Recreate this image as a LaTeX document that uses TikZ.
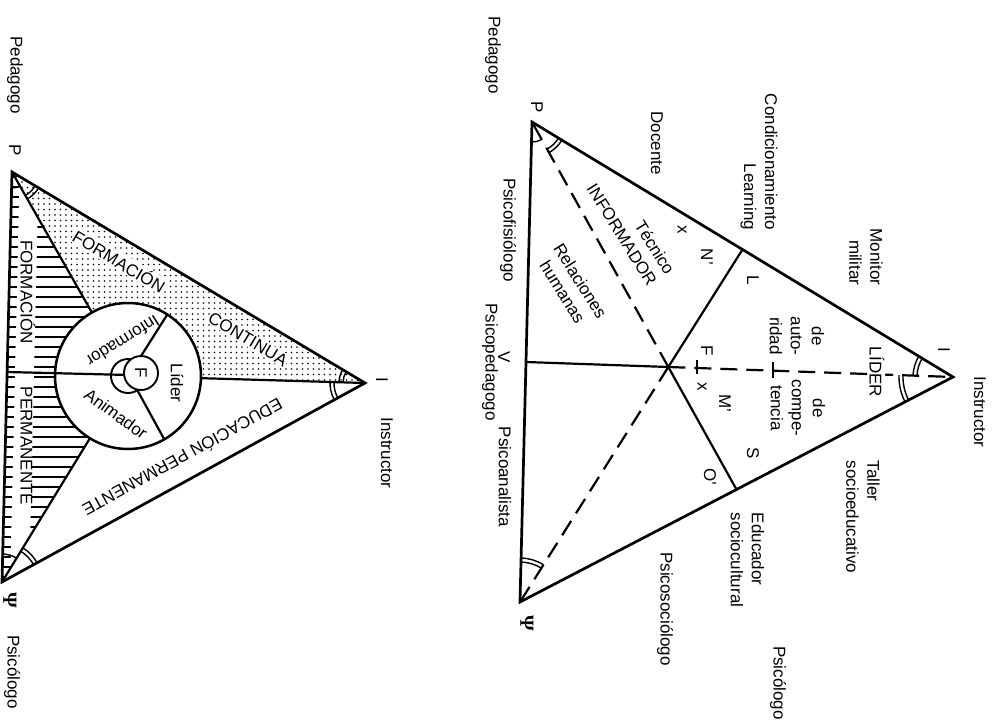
\documentclass[tikz,border=0pt]{standalone}
\usepackage{fontspec}
\setmainfont{Liberation Sans}
\newfontfamily\psifont{Liberation Serif}
\usetikzlibrary{calc,patterns.meta}
\begin{document}
\begin{tikzpicture}[x=1pt,y=1pt,
  lbl/.style={font=\fontsize{17}{21}\selectfont, inner sep=0pt},
  vlbl/.style={lbl, rotate=-90},
  psil/.style={font=\psifont\bfseries\fontsize{20}{20}\selectfont, inner sep=0pt, rotate=-90},
  edge/.style={line width=2.7pt, line join=miter},
  innerln/.style={line width=2.2pt},
  dsh/.style={line width=2.2pt, dash pattern=on 17pt off 9pt},
  amark/.style={line width=1.4pt},
  wbg/.style={fill=white, inner sep=1pt}]
\useasboundingbox (0,0) rectangle (997,-721);
% ================= LEFT TRIANGLE =================
\coordinate (P1) at (12,-172);
\coordinate (I1) at (365,-383);
\coordinate (S1) at (2,-582);
\coordinate (C) at (128,-376);
\coordinate (Q) at (129,-375);
\coordinate (CP) at ($(C)!73pt!(P1)$);
\coordinate (CI) at ($(C)!73pt!(I1)$);
\coordinate (CS) at ($(C)!73pt!(S1)$);
\coordinate (E1) at ($(P1)!0.4878!(S1)$);
\coordinate (CU) at ($(C)+(57.4:73)$);
\coordinate (CD) at ($(C)+(-60.2:73)$);
% dotted region
\fill[pattern={Dots[distance=5.5pt,radius=0.95pt]}] (P1) -- (I1) -- (CI) arc[start angle=-1.69, end angle=119.62, radius=73] -- cycle;
% hatched region
\begin{scope}
  \clip (P1) -- (CP) arc[start angle=119.62, end angle=238.55, radius=73] -- (S1) -- cycle;
  \foreach \yy in {177,187,...,577} \draw[line width=2.2pt] (-5,-\yy) -- (200,-\yy);
  \fill[white] (20,-160) -- (39,-160) -- (29,-590) -- (10,-590) -- cycle;
\end{scope}
% lines
\draw[edge] (P1) -- (I1) -- (S1) -- cycle;
\draw[innerln] (P1) -- (CP);
\draw[innerln] (I1) -- (CI);
\draw[innerln] (S1) -- (CS);
\draw[line width=2.5pt] (C) circle[radius=73];
\draw[innerln] (E1) -- (Q);
\draw[innerln] (Q) -- (CU);
\draw[innerln] (Q) -- (CD);
\draw[line width=1.9pt] (C) circle[radius=17];
\draw[line width=1.9pt, fill=white] (141,-373) circle[radius=17] node (fi) [vlbl] {F};
% angle marks left
\draw[amark] ($(P1)+(268.6:16)$) arc[start angle=268.6, end angle=299.6, radius=16];
\draw[amark] ($(P1)+(299.6:27)$) arc[start angle=299.6, end angle=329.1, radius=27];
\draw[amark] ($(P1)+(299.6:31)$) arc[start angle=299.6, end angle=329.1, radius=31];
\draw[amark] ($(I1)+(149.1:22)$) arc[start angle=149.1, end angle=178.3, radius=22];
\draw[amark] ($(I1)+(149.1:26)$) arc[start angle=149.1, end angle=178.3, radius=26];
\draw[amark] ($(I1)+(178.3:31)$) arc[start angle=178.3, end angle=208.7, radius=31];
\draw[amark] ($(I1)+(178.3:35)$) arc[start angle=178.3, end angle=208.7, radius=35];
\draw[amark] ($(S1)+(58.5:28)$) arc[start angle=58.5, end angle=88.6, radius=28];
\draw[amark] ($(S1)+(28.7:36)$) arc[start angle=28.7, end angle=58.5, radius=36];
\draw[amark] ($(S1)+(28.7:40)$) arc[start angle=28.7, end angle=58.5, radius=40];
% labels left
\node[vlbl] (pedL) at (15,-75) {Pedagogo};
\node[vlbl] (pL) at (15,-150) {P};
\node[vlbl] (iL) at (382,-380) {I};
\node[vlbl] (instL) at (387,-453) {Instructor};
\node[psil] (psiL) at (10,-600) {Ψ};
\node[vlbl] (psicL) at (12,-672) {Psicólogo};
\node[lbl, wbg, rotate=-31] (fc1) at (119.5,-261) {FORMACIÓN};
\node[lbl, wbg, rotate=-31] (fc2) at (248,-339) {CONTINUA};
\node[lbl, rotate=208.7] (ep) at (183,-458) {EDUCACIÓN PERMANENTE};
\node[vlbl] (fp1) at (28,-292) {FORMACIÓN};
\node[vlbl] (fp2) at (26.5,-446) {PERMANENTE};
\node[lbl, rotate=212] (inf) at (123,-341) {Informador};
\node[vlbl] (lid) at (177,-383) {Líder};
\node[lbl, rotate=-36] (ani) at (116,-414) {Animador};
% ================= RIGHT TRIANGLE =================
\coordinate (P2) at (532,-122);
\coordinate (I2) at (953,-377);
\coordinate (S2) at (520,-602);
\coordinate (F2) at ($1/3*(P2)+1/3*(I2)+1/3*(S2)$);
\coordinate (L2) at ($(P2)!0.5!(I2)$);
\coordinate (O2) at ($(I2)!0.5!(S2)$);
\coordinate (V2) at ($(P2)!0.5!(S2)$);
\draw[edge] (P2) -- (I2) -- (S2) -- cycle;
\draw[innerln] (L2) -- (F2) -- (O2);
\draw[innerln] (V2) -- (F2);
\draw[dsh] (F2) -- (P2);
\draw[dsh] (F2) -- (S2);
\draw[dsh] (F2) -- (I2);
\draw[line width=1.6pt] (697,-360) -- (697,-374);
\draw[line width=2pt] (773,-362) -- (773,-378);
% angle marks right
\draw[amark] ($(P2)+(268.6:20)$) arc[start angle=268.6, end angle=299, radius=20];
\draw[amark] ($(P2)+(299:31)$) arc[start angle=299, end angle=328.8, radius=31];
\draw[amark] ($(P2)+(299:35)$) arc[start angle=299, end angle=328.8, radius=35];
\draw[amark] ($(I2)+(148.8:36)$) arc[start angle=148.8, end angle=178, radius=36];
\draw[amark] ($(I2)+(148.8:40)$) arc[start angle=148.8, end angle=178, radius=40];
\draw[amark] ($(I2)+(178:50)$) arc[start angle=178, end angle=207.5, radius=50];
\draw[amark] ($(I2)+(178:54)$) arc[start angle=178, end angle=207.5, radius=54];
\draw[amark] ($(S2)+(57.8:40)$) arc[start angle=57.8, end angle=88.6, radius=40];
\draw[amark] ($(S2)+(57.8:44)$) arc[start angle=57.8, end angle=88.6, radius=44];
% labels right
\node[vlbl] (pedR) at (493,-55) {Pedagogo};
\node[vlbl] (pR) at (537,-107) {P};
\node[vlbl] (doc) at (657,-143) {Docente};
\node[vlbl, align=right] (cond) at (759,-162) {Condicionamiento\\Learning};
\node[vlbl, align=right] (mon) at (866,-257) {Monitor\\militar};
\node[vlbl] (iR) at (944,-350) {I};
\node[vlbl] (instR) at (980,-412) {Instructor};
\node[vlbl, wbg] (lider) at (877,-372) {LÍDER};
\node[vlbl, align=center] (aut) at (797,-336) {de\\auto-\\ridad};
\node[vlbl, align=center] (comp) at (798,-408) {de\\compe-\\tencia};
\node[vlbl] (fR) at (707,-351) {F};
\node[vlbl] (x1) at (702,-387) {x};
\node[vlbl] (mR) at (725,-403) {M'};
\node[vlbl] (sR) at (753,-453) {S};
\node[vlbl] (oR) at (710,-477) {O'};
\node[vlbl] (lR) at (753,-280) {L};
\node[vlbl] (nR) at (707,-257) {N'};
\node[vlbl] (x2) at (682,-230) {x};
\node[lbl, rotate=-58, align=right] (tec) at (631,-229) {Técnico\\INFORMADOR};
\node[lbl, rotate=-58, align=center] (rel) at (571.5,-286.5) {Relaciones\\humanas};
\node[vlbl] (pfis) at (508,-230) {Psicofisiólogo};
\node[vlbl] (pped) at (490,-362) {Psicopedagogo};
\node[vlbl] (vR) at (504,-357) {V};
\node[vlbl] (pana) at (505,-477) {Psicoanalista};
\node[psil] (psiR) at (527,-623) {Ψ};
\node[vlbl] (psicR) at (778,-683) {Psicólogo};
\node[vlbl] (psoc) at (665,-609) {Psicosociólogo};
\node[vlbl, align=left] (tal) at (863,-517) {Taller\\socioeducativo};
\node[vlbl, align=left] (edu) at (747.5,-560) {Educador\\sociocultural};
\end{tikzpicture}
\end{document}
